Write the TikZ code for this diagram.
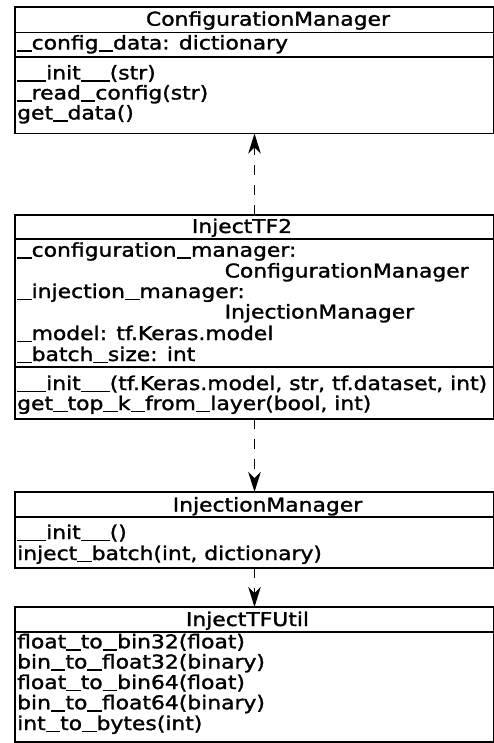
\documentclass[tikz,border=0pt]{standalone}
\usepackage{fontspec}
\setmainfont[FakeStretch=1.15,FakeBold=1.5]{DejaVu Sans}
\usetikzlibrary{arrows.meta}
\newcommand{\us}{\rule[-2.2pt]{14.5pt}{1.5pt}}
\tikzset{
  classbox/.style={draw, line width=1.9pt, anchor=north west, inner sep=0pt, outer sep=0pt, minimum width=479pt},
  sepline/.style={line width=1.9pt},
  member/.style={anchor=base west, inner sep=0pt, font=\fontsize{19pt}{20.4pt}\selectfont},
  title/.style={anchor=base, inner sep=0pt, font=\fontsize{19pt}{20.4pt}\selectfont},
  dep/.style={line width=1.3pt, dash pattern=on 10pt off 10pt, -{Stealth[length=20pt,width=12.5pt,inset=6pt]}}
}
\begin{document}
\begin{tikzpicture}[x=1pt,y=-1pt]
\useasboundingbox (0,0) rectangle (493,743);
% ConfigurationManager
\node[classbox, minimum height=126.5pt] (cm) at (15,7) {};
\draw[sepline] (15,32.5) -- (494,32.5);
\draw[sepline] (15,57) -- (494,57);
\node[title] (cmt) at (268,25.7) {ConfigurationManager};
\node[member] (cma) at (17,49.5) {\us config\us data: dictionary};
\node[member] (cmm1) at (17,79.5) {\us\us init\us\us(str)};
\node[member] (cmm2) at (17,99.5) {\us read\us config(str)};
\node[member] (cmm3) at (17,119.5) {get\us data()};
% InjectTF2
\node[classbox, minimum height=204pt] (it) at (15,215) {};
\draw[sepline] (15,239) -- (494,239);
\draw[sepline] (15,367) -- (494,367);
\node[title] (itt) at (242,233) {InjectTF2};
\node[member] (ita1) at (17,256.7) {\us configuration\us manager:};
\node[member] (ita2) at (224.5,277.5) {ConfigurationManager};
\node[member] (ita3) at (17,298) {\us injection\us manager:};
\node[member] (ita4) at (224.5,318.5) {InjectionManager};
\node[member] (ita5) at (17,340) {\us model: tf.Keras.model};
\node[member] (ita6) at (17,361) {\us batch\us size: int};
\node[member] (itm1) at (17,390) {\us\us init\us\us(tf.Keras.model, str, tf.dataset, int)};
\node[member] (itm2) at (17,410) {get\us top\us k\us from\us layer(bool, int)};
% InjectionManager
\node[classbox, minimum height=76pt] (im) at (15,492) {};
\draw[sepline] (15,517) -- (494,517);
\node[title] (imt) at (267.5,511.5) {InjectionManager};
\node[member] (imm1) at (17,539) {\us\us init\us\us()};
\node[member] (imm2) at (17,560) {inject\us batch(int, dictionary)};
% InjectTFUtil
\node[classbox, minimum height=135pt] (iu) at (15,607) {};
\draw[sepline] (15,632) -- (494,632);
\node[title] (iut) at (247.5,626) {InjectTFUtil};
\node[member] (ium1) at (17,648.3) {float\us to\us bin32(float)};
\node[member] (ium2) at (17,668.5) {bin\us to\us float32(binary)};
\node[member] (ium3) at (17,689) {float\us to\us bin64(float)};
\node[member] (ium4) at (17,709.3) {bin\us to\us float64(binary)};
\node[member] (ium5) at (17,730) {int\us to\us bytes(int)};
% connectors
\draw[dep] (it.north) -- (cm.south);
\draw[dep] (it.south) -- (im.north);
\draw[dep] (im.south) -- (iu.north);
\end{tikzpicture}
\end{document}
